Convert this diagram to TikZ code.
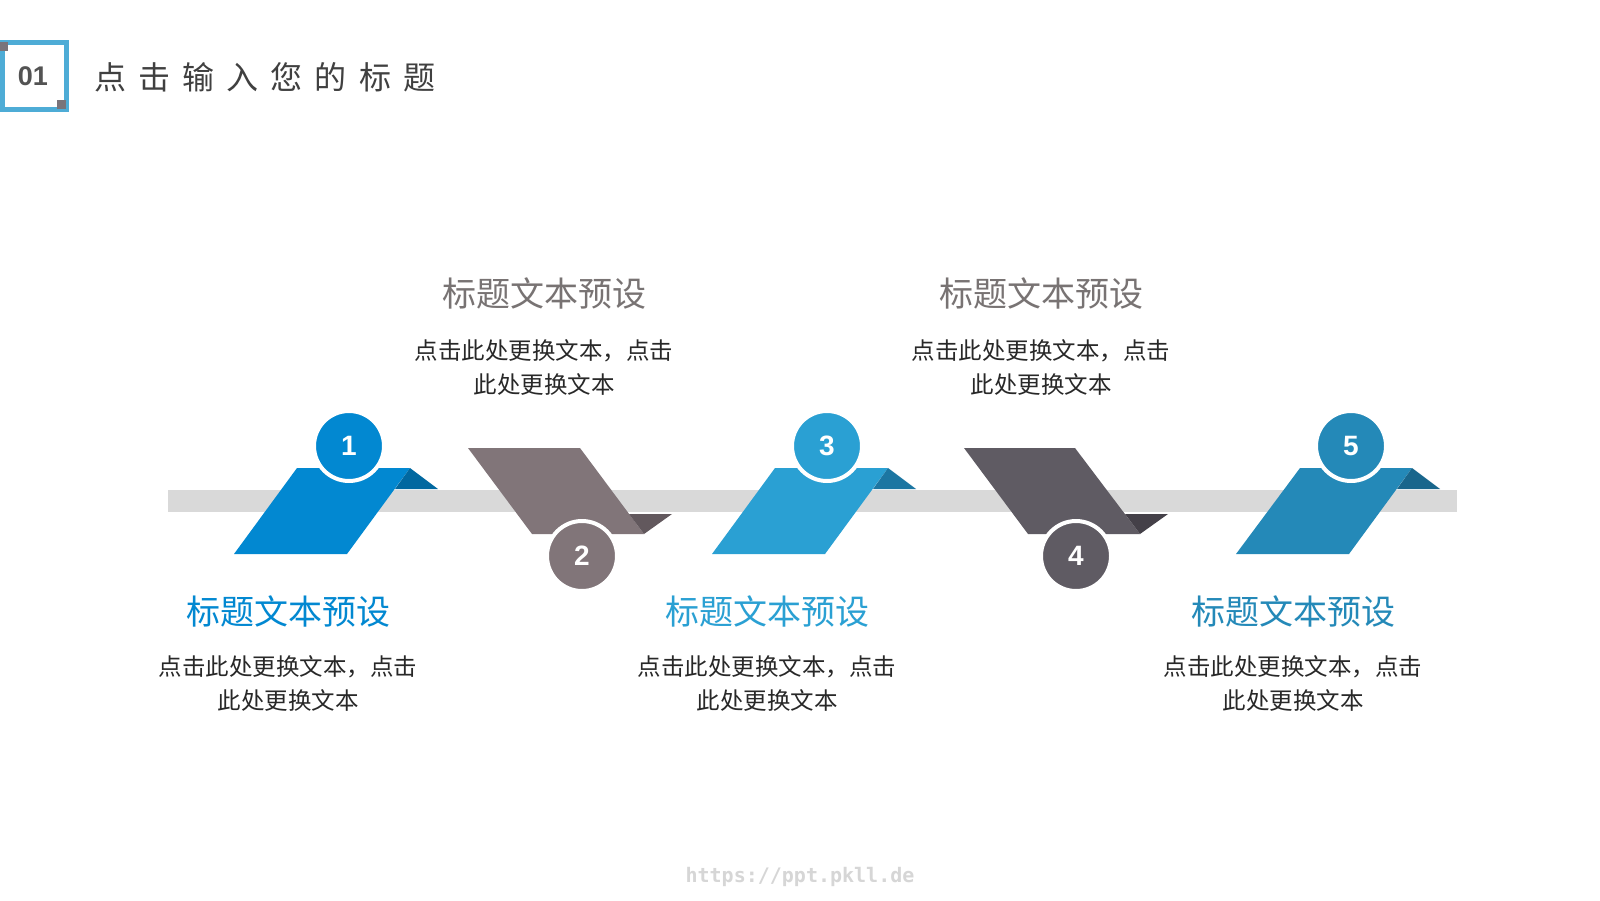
\documentclass[tikz,border=0pt]{standalone}
\usepackage{fontspec}
\setmainfont{Noto Sans CJK SC}
\newfontfamily\numfont{Liberation Sans}
\newfontfamily\headfont[LetterSpace=38]{Noto Sans CJK SC}
\newfontfamily\linkfont{DejaVu Sans Mono}
\usetikzlibrary{positioning}
\definecolor{tlFrame}{RGB}{78,172,214}
\definecolor{tlCorner}{RGB}{122,116,122}
\definecolor{tlHead}{RGB}{64,64,64}
\definecolor{tlBar}{RGB}{217,217,217}
\definecolor{tlGray}{RGB}{120,115,115}
\definecolor{tlText}{RGB}{40,40,40}
\definecolor{stepA}{RGB}{2,136,209}
\definecolor{stepAdark}{RGB}{1,104,160}
\definecolor{stepB}{RGB}{129,117,121}
\definecolor{stepBdark}{RGB}{98,88,93}
\definecolor{stepC}{RGB}{42,160,211}
\definecolor{stepCdark}{RGB}{28,118,162}
\definecolor{stepD}{RGB}{95,91,99}
\definecolor{stepDdark}{RGB}{68,64,72}
\definecolor{stepE}{RGB}{36,137,184}
\definecolor{stepEdark}{RGB}{25,102,140}

\begin{document}
\begin{tikzpicture}[
    x=1pt, y=-1pt,
    num node/.style={circle, minimum size=70pt, inner sep=0pt, draw=white, line width=4pt, text=white, font=\numfont\bfseries\fontsize{28}{28}\selectfont},
    head note/.style={font=\fontsize{34}{34}\selectfont, inner sep=0pt},
    body note/.style={font=\fontsize{23.5}{34}\selectfont, align=center, inner sep=0pt, text=tlText}
]
  \fill[white] (0,0) rectangle (1600,900);
  \useasboundingbox (0,0) rectangle (1600,900);

  % header
  \draw[tlFrame, line width=4.7pt] (2.5,42.5) rectangle (66.5,109.5);
  \fill[tlCorner] (0,42) rectangle (8,51);
  \fill[tlCorner] (57,100) rectangle (66,109);
  \node[font=\numfont\bfseries\fontsize{27}{27}\selectfont, text=tlHead!90] (num) at (33,76) {01};
  \node[font=\headfont\fontsize{32}{32}\selectfont, text=tlHead, anchor=west, inner sep=0pt] (title) at (94,77) {点击输入您的标题};

  % time bar
  \fill[tlBar] (168,490) rectangle (1457,512);

  % step 1
  \fill[stepA] (297,468) -- (410,468) -- (347,554) -- (234,554) -- cycle;
  \fill[stepAdark] (410,468) -- (438,489) -- (395,489) -- cycle;
  % step 2
  \fill[stepB] (468,448) -- (580,448) -- (644,534) -- (532,534) -- cycle;
  \fill[stepBdark] (644,534) -- (672,514) -- (629,514) -- cycle;
  % step 3
  \fill[stepC] (775,468) -- (888,468) -- (825,554) -- (712,554) -- cycle;
  \fill[stepCdark] (888,468) -- (916,489) -- (873,489) -- cycle;
  % step 4
  \fill[stepD] (964,448) -- (1075,448) -- (1140,534) -- (1028,534) -- cycle;
  \fill[stepDdark] (1140,534) -- (1168,514) -- (1125,514) -- cycle;
  % step 5
  \fill[stepE] (1300,468) -- (1412,468) -- (1349,554) -- (1236,554) -- cycle;
  \fill[stepEdark] (1412,468) -- (1440,489) -- (1397,489) -- cycle;

  \node[num node, fill=stepA] (c1) at (349,446) {1};
  \node[num node, fill=stepB] (c2) at (582,556) {2};
  \node[num node, fill=stepC] (c3) at (827,446) {3};
  \node[num node, fill=stepD] (c4) at (1076,556) {4};
  \node[num node, fill=stepE] (c5) at (1351,446) {5};

  % labels above
  \node[head note, text=tlGray] (t2) at (544,294) {标题文本预设};
  \node[body note] (b2) at (544,367) {点击此处更换文本，点击\\此处更换文本};
  \node[head note, text=tlGray] (t4) at (1041,294) {标题文本预设};
  \node[body note] (b4) at (1041,367) {点击此处更换文本，点击\\此处更换文本};

  % labels below
  \node[head note, text=stepA] (t1) at (288,612) {标题文本预设};
  \node[body note] (b1) at (288,683) {点击此处更换文本，点击\\此处更换文本};
  \node[head note, text=stepC] (t3) at (767,612) {标题文本预设};
  \node[body note] (b3) at (767,683) {点击此处更换文本，点击\\此处更换文本};
  \node[head note, text=stepE] (t5) at (1293,612) {标题文本预设};
  \node[body note] (b5) at (1293,683) {点击此处更换文本，点击\\此处更换文本};

  \node[font=\linkfont\bfseries\fontsize{20}{20}\selectfont, text=black!16] (link) at (800,877) {https://ppt.pkll.de};
\end{tikzpicture}
\end{document}
